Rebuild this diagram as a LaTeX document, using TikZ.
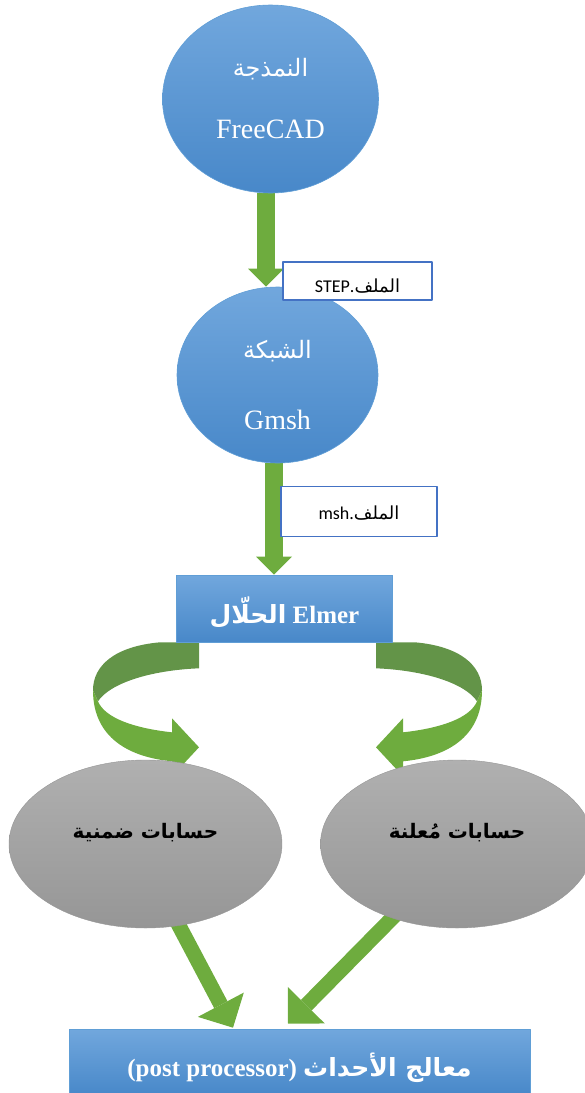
\documentclass[tikz,border=0pt]{standalone}
\usepackage{fontspec}
\setmainfont{Liberation Serif}
\newfontfamily\arabicfont[Script=Arabic]{DejaVu Sans}
\newfontfamily\labelfont{Carlito}
\TeXXeTstate=1
\usetikzlibrary{shapes.geometric,arrows.meta}
\pgfdeclarelayer{back}
\pgfsetlayers{back,main}

\definecolor{bluetop}{RGB}{113,167,221}
\definecolor{bluebot}{RGB}{72,136,201}
\definecolor{blueline}{RGB}{96,158,214}
\definecolor{tagline}{RGB}{68,114,196}
\definecolor{greenfront}{RGB}{110,172,62}
\definecolor{greenback}{RGB}{99,148,72}
\definecolor{graytop}{RGB}{176,176,176}
\definecolor{graybot}{RGB}{150,150,150}

\tikzset{
  bubble/.style={ellipse,inner sep=0pt,top color=bluetop,bottom color=bluebot,draw=blueline,line width=.6pt,text=white,align=center,font=\fontsize{28}{30}\selectfont},
  filetag/.style={rectangle,draw=tagline,line width=1.6pt,fill=white,inner sep=0pt,font=\labelfont\fontsize{18}{20}\selectfont},
  stage/.style={rectangle,inner sep=0pt,top color=bluetop,bottom color=bluebot,draw=blueline,line width=.6pt,text=white,font=\bfseries\fontsize{25}{28}\selectfont},
  compute/.style={ellipse,inner sep=0pt,top color=graytop,bottom color=graybot,draw=graybot,line width=.4pt,minimum width=273pt,minimum height=168pt,font=\arabicfont\bfseries\fontsize{20}{24}\selectfont},
  flow/.style={draw=greenfront,line width=18pt,-{Triangle[length=18pt,width=36pt,line width=0pt]}},
  slant/.style={draw=greenfront,line width=15pt,-{Triangle[length=26pt,width=52pt,line width=0pt]}},
}

\newcommand\ribbonarrow{%
  \fill[greenback] (-124.5,0) .. controls (-169.5,4) and (-191.5,23) .. (-191.5,48)
    -- (-186.5,59) .. controls (-174.5,41) and (-134.5,28) .. (-85.5,26) -- (-85.5,0) -- cycle;
  \fill[greenfront] (-191.5,48) .. controls (-191.5,96) and (-154.5,115) .. (-112.5,119)
    -- (-112.5,134) -- (-85.5,105) -- (-112.5,76) -- (-112.5,90)
    .. controls (-149.5,86) and (-179.5,76) .. (-186.5,59) -- cycle;
}
\newcommand\sink[2]{\raisebox{#1}[0pt][0pt]{#2}}

\begin{document}
\begin{tikzpicture}[x=1pt,y=-1pt,line join=round]
\useasboundingbox (0,0) rectangle (585,1093);
\clip (0,0) rectangle (585,1093);
\node[bubble,minimum width=216pt,minimum height=188pt] (model) at (270.5,99)
  {{\arabicfont\fontsize{24}{26}\selectfont\beginR النمذجة\endR}\\[32pt]FreeCAD};
\node[bubble,minimum width=201pt,minimum height=176pt] (mesh) at (277.5,375)
  {{\arabicfont\fontsize{24}{26}\selectfont\rule{0pt}{38pt}\beginR الشبكة\endR}\\[41pt]Gmsh};
\node[filetag,minimum width=149pt,minimum height=38pt] (step) at (357.5,281)
  {\sink{-11pt}{\beginR{\arabicfont الملف}.\beginL STEP\endL\endR}};
\node[filetag,minimum width=156pt,minimum height=50pt] (mshfile) at (359,511.5)
  {\sink{-8pt}{\beginR{\arabicfont الملف}.\beginL msh\endL\endR}};
\node[stage,minimum width=216pt,minimum height=67pt] (solver) at (284.5,608.5)
  {\sink{-15pt}{\beginR\beginL Elmer\endL{} {\arabicfont الحلّال}\endR}};
\node[compute] (implicit) at (145.5,844) {\sink{6pt}{\beginR حسابات ضمنية\endR}};
\node[compute] (explicit) at (457,844) {\sink{6pt}{\beginR حسابات مُعلنة\endR}};
\node[stage,minimum width=461pt,minimum height=66pt] (post) at (299.5,1062)
  {\sink{-14pt}{\beginR{\arabicfont معالج الأحداث} \beginL(post processor)\endL\endR}};
\begin{pgfonlayer}{back}
\draw[flow] ([xshift=-4.5pt]model.south) -- ([xshift=-4.5pt]model.south |- mesh.north);
\draw[flow] ([xshift=-3.5pt]mesh.south) -- ([xshift=-3.5pt]mesh.south |- solver.north);
\begin{scope}[shift={(solver.south)}]
\ribbonarrow
\end{scope}
\begin{scope}[shift={(solver.south)},xshift=6pt,xscale=-1]
\ribbonarrow
\end{scope}
\draw[slant] ([shift={(28,-13)}]implicit.south) -- ([shift={(-66.5,-1)}]post.north);
\draw[slant] ([shift={(-59,-16)}]explicit.south) -- ([shift={(-11.5,-5)}]post.north);
\end{pgfonlayer}
\end{tikzpicture}
\end{document}
